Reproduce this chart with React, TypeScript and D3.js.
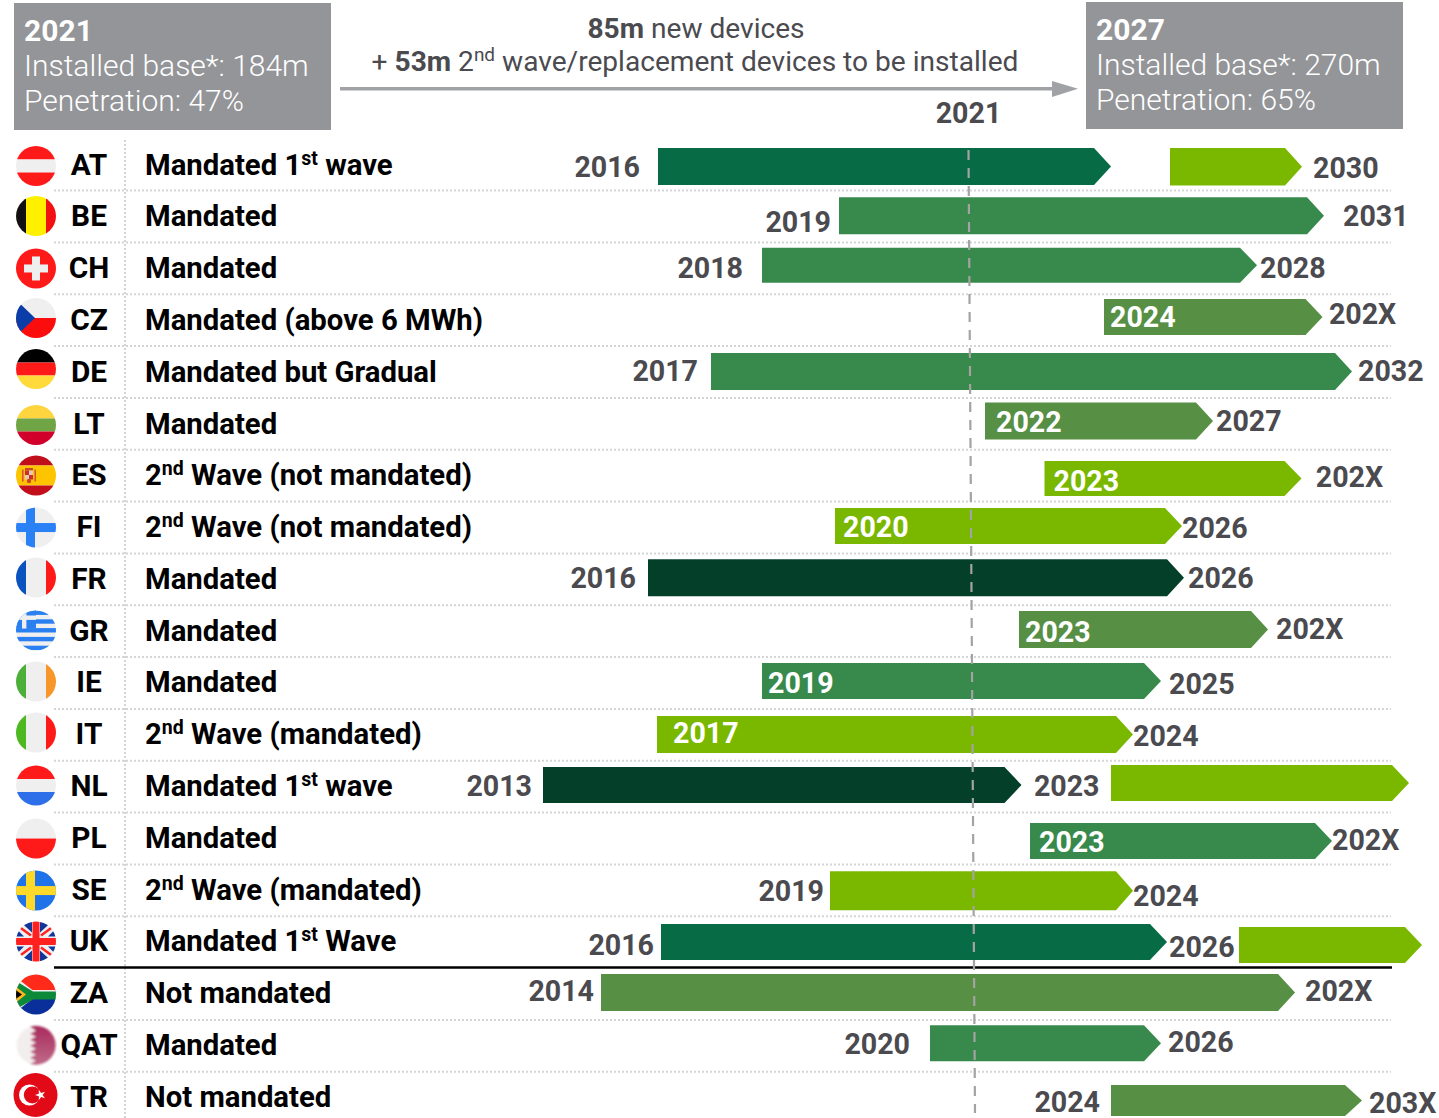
import React from "react";
import * as d3 from "d3";

// ---------- data ----------
const codes = ["AT","BE","CH","CZ","DE","LT","ES","FI","FR","GR","IE","IT","NL","PL","SE","UK","ZA","QAT","TR"];
const policies = [
  ["Mandated 1","st"," wave"],["Mandated"],["Mandated"],["Mandated (above 6 MWh)"],["Mandated but Gradual"],["Mandated"],
  ["2","nd"," Wave (not mandated)"],["2","nd"," Wave (not mandated)"],["Mandated"],["Mandated"],["Mandated"],
  ["2","nd"," Wave (mandated)"],["Mandated 1","st"," wave"],["Mandated"],["2","nd"," Wave (mandated)"],
  ["Mandated 1","st"," Wave"],["Not mandated"],["Mandated"],["Not mandated"],
];
const startYears = ["2016","2019","2018","2024","2017","2022","2023","2020","2016","2023","2019","2017","2013","2023","2019","2016","2014","2020","2024"];
const endYears = ["2030","2031","2028","202X","2032","2027","202X","2026","2026","202X","2025","2024","2023","202X","2024","2026","202X","2026","203X"];
const rollout = ["first","mandated","mandated","partial","mandated","partial","second","second","early","partial","mandated","second","early","mandated","second","first","partial","mandated","partial"];
// bar extents on the schematic timeline of the picture
const barStart = [2014.76,2018.38,2016.84,2023.68,2015.82,2021.3,2022.49,2018.3,2014.56,2021.98,2016.84,2014.74,2012.46,2022.2,2018.2,2014.82,2013.62,2020.2,2023.82];
const barEnd = [2023.82,2028.08,2026.74,2028.05,2028.64,2025.86,2027.63,2025.24,2025.28,2026.96,2024.82,2024.26,2022.03,2028.24,2024.26,2024.94,2027.5,2024.82,2028.84];
const secondRows = [0,12,15];
const secondStart = [2025.0,2023.82,2026.38];
const secondEnd = [2027.64,2029.78,2030.04];
const todayYear = 2021;

// ---------- layout & style ----------
const palette: Record<string,string> = { first:"#076C46", mandated:"#37894C", partial:"#578F45", second:"#7AB800", early:"#044029" };
const insideStart = [3,5,6,7,9,10,11,13];
const startGap = [18,8,19,6,13,11,9,8,12,6,6,16,11,9,6,7,7,20,11];
const startDy = [2,5,0,-3.5,-1,-2,5,-1,-1.5,0.5,0,-2,-1,3,0.5,2.5,-3,-2,4];
const endGap = [11,19,3,6.4,6,3,14.3,0,4,8,8,0,12.4,0,0,2,10,7,7];
const endDy = [3,-1,-0.7,-6.5,-1,-3,1,0,-1.5,-2.5,0.7,1,-1,1,5.5,4.5,-3,-4,5];
const barDy = [1.4,-1.1,-3.5,-3.5,-0.8,-3.2,2.5,-1.8,-2,-2,-2.3,-0.6,-2,2.2,0,-0.5,-1.8,-3,2.5];
const barH = [37,37,35,36,37,37,35,36,37,37,36,37,36,36,39,36,37,36,31];
const secondDy = [1.75,-4,2.5];
const secondH = [37.5,36,36];
const flagDy = [0.5,-1.3,-0.7,-3,-3.8,0.3,-1,-0.8,-2.6,-1.5,-2.3,-3.1,-2,-0.8,-0.6,-1.5,-0.3,-1.1,-3];
const TIP = 17;

const F = "Roboto, sans-serif";
const GREY = "#4A4A4F";
const x = d3.scaleLinear().domain([2010, 2035]).range([420, 1670]);
const rowY = d3.scaleLinear().domain([0, 18]).range([165, 1098]);
const poly = d3.line<[number,number]>().curve(d3.curveLinearClosed);

function chevron(s:number,e:number,cy:number,h:number){
  const l=x(s), r=x(e), t=cy-h/2, b=cy+h/2;
  return poly([[l,t],[r-TIP,t],[r,cy],[r-TIP,b],[l,b]]) as string;
}

function Flag({code}:{code:string}){
  const R="#FF1A1A", W="#EFEFEF", B="#0A52BE";
  const h3=(a:string,b:string,c:string,t=6.5)=>(<>
    <rect x={-24} y={-24} width={48} height={24-t} fill={a}/><rect x={-24} y={-t} width={48} height={2*t} fill={b}/><rect x={-24} y={t} width={48} height={24-t} fill={c}/></>);
  const v3=(a:string,b:string,c:string)=>(<>
    <rect x={-24} y={-24} width={14} height={48} fill={a}/><rect x={-10} y={-24} width={20} height={48} fill={b}/><rect x={10} y={-24} width={14} height={48} fill={c}/></>);
  switch(code){
    case "AT": return h3(R,W,R);
    case "BE": return v3("#111","#FFF000","#F21010");
    case "CH": return <><rect x={-24} y={-24} width={48} height={48} fill={R}/><rect x={-12} y={-4} width={24} height={8} fill={W}/><rect x={-4} y={-12} width={8} height={24} fill={W}/></>;
    case "CZ": return <><rect x={-24} y={-24} width={48} height={24} fill={W}/><rect x={-24} y={0} width={48} height={24} fill="#FC0D0D"/><path d="M-24,-22L-1,0L-24,22Z" fill="#0B3DA8"/></>;
    case "DE": return h3("#000","#FF1A1A","#FFDA3A");
    case "LT": return h3("#FFD53F","#6FA544","#D0002A");
    case "ES": return <>{h3("#C00E1A","#FFC400","#C00E1A",10)}
      <rect x={-14} y={-6} width={1.6} height={12} fill="#D8553A"/><rect x={-1.6} y={-6} width={1.6} height={12} fill="#D8553A"/>
      <rect x={-11} y={-7.5} width={8} height={2.5} fill="#C8482A"/>
      <rect x={-11} y={-5} width={4} height={4.5} fill="#C8302A"/><rect x={-7} y={-5} width={4} height={4.5} fill="#E8C8B8"/>
      <rect x={-11} y={-0.5} width={4} height={4.5} fill="#E8C8B8"/><rect x={-7} y={-0.5} width={4} height={4.5} fill="#C8302A"/>
      <circle cx={-7} cy={5.5} r={2.2} fill="#C8482A"/></>;
    case "FI": return <><rect x={-24} y={-24} width={48} height={48} fill={W}/><rect x={-24} y={-4.5} width={48} height={9} fill="#2A80F5"/><rect x={-10} y={-24} width={9} height={48} fill="#2A80F5"/></>;
    case "FR": return v3(B,W,R);
    case "GR": { const bl="#2A80F0"; return <><rect x={-24} y={-24} width={48} height={48} fill={W}/>
      {[-20,-11.2,-2.4,6.4,15.2].map(y=><rect key={y} x={-24} y={y} width={48} height={4.4} fill={bl}/>)}
      <rect x={-24} y={-24} width={24} height={22} fill={bl}/><rect x={-24} y={-15} width={24} height={4.4} fill={W}/><rect x={-14} y={-24} width={4.4} height={22} fill={W}/></>; }
    case "IE": return v3("#4CAF3A",W,"#F7962A");
    case "IT": return v3("#4DB81F",W,R);
    case "NL": return h3(R,W,"#2C6FE8");
    case "PL": return <><rect x={-24} y={-24} width={48} height={24} fill={W}/><rect x={-24} y={0} width={48} height={24} fill={R}/></>;
    case "SE": return <><rect x={-24} y={-24} width={48} height={48} fill="#1E73E8"/><rect x={-24} y={-4.5} width={48} height={9} fill="#FFD92A"/><rect x={-10} y={-24} width={9} height={48} fill="#FFD92A"/></>;
    case "UK": return <><rect x={-24} y={-24} width={48} height={48} fill={W}/>
      <path d="M-4,-20L-16,-20L-4,-9ZM4,-20L16,-20L4,-9ZM-4,20L-16,20L-4,9ZM4,20L16,20L4,9ZM-20,-5L-12,-5L-20,-13ZM20,-5L12,-5L20,-13ZM-20,5L-12,5L-20,13ZM20,5L12,5L20,13Z" fill="#12359A"/>
      <path d="M-20,-17L-5,-6M20,-17L5,-6M-20,17L-5,6M20,17L5,6" stroke="#F22" strokeWidth={2.5}/>
      <rect x={-24} y={-3.5} width={48} height={7} fill="#FF2020"/><rect x={-3.5} y={-24} width={7} height={48} fill="#FF2020"/></>;
    case "ZA": return <><rect x={-24} y={-24} width={48} height={24} fill="#FF2A1A"/><rect x={-24} y={0} width={48} height={24} fill="#0B2F9A"/>
      <path d="M-24,-19L-4,-3.5L24,-3.5L24,3.5L-4,3.5L-24,19Z" fill="#EFEFEF" stroke="#EFEFEF" strokeWidth={2}/>
      <path d="M-24,-16L-3,-3L24,-3L24,5L-3,5L-24,17Z" fill="#0C8A3A"/>
      <path d="M-24,-11L-10,0L-24,11Z" fill="#FFB81C"/><path d="M-24,-7L-14,0L-24,7Z" fill="#000"/></>;
    default: return null;
  }
}

function Policy({parts,y}:{parts:string[],y:number}){
  return <text x={145} y={y} fontFamily={F} fontWeight={700} fontSize={29.3} fill="#000">
    {parts.map((p,i)=> i===1
      ? <tspan key={i} fontSize={19.5} dy={-10}>{p}</tspan>
      : <tspan key={i} dy={i===2?10:0}>{p}</tspan>)}
  </text>;
}

export default function App(){
  React.useEffect(()=>{document.body.style.margin="0";},[]);
  return (
    <svg width={1439} height={1118} style={{position:"absolute",left:0,top:0,display:"block",background:"#fff"}}>
      <defs>
        <clipPath id="fc"><circle r={20}/></clipPath>
        <filter id="blur"><feGaussianBlur stdDeviation={1.1}/></filter>
        <linearGradient id="qat" x1="0" y1="0" x2="0" y2="1"><stop offset="0" stopColor="#A82A5C"/><stop offset="1" stopColor="#C06A88"/></linearGradient>
      </defs>

      {/* header */}
      <rect x={14} y={3} width={317} height={127} fill="#939598"/>
      <rect x={1086} y={2} width={317} height={127} fill="#939598"/>
      {[{x:24,dy:0,l:"2021",b:"184m",p:"47%"},{x:1096,dy:-1,l:"2027",b:"270m",p:"65%"}].map(h=>(
        <g key={h.l} fontFamily={F} fontSize={30} fill="#fff">
          <text x={h.x} y={41+h.dy} fontWeight={700}>{h.l}</text>
          <text x={h.x} y={76+h.dy} fontWeight={300}>Installed base*: {h.b}</text>
          <text x={h.x} y={111+h.dy} fontWeight={300}>Penetration: {h.p}</text>
        </g>
      ))}
      <text x={696} y={37.5} textAnchor="middle" fontFamily={F} fontSize={28.1} fill={GREY}><tspan fontWeight={700}>85m</tspan> new devices</text>
      <text x={695} y={71} textAnchor="middle" fontFamily={F} fontSize={28.1} fill={GREY}>
        + <tspan fontWeight={700}>53m</tspan> 2<tspan fontSize={19} dy={-10}>nd</tspan><tspan dy={10}> wave/replacement devices to be installed</tspan>
      </text>
      <rect x={340} y={87} width={714} height={3.5} fill="#A0A2A5"/>
      <path d={poly([[1052,81],[1078,88.7],[1052,97]]) as string} fill="#A0A2A5"/>
      <text x={968.5} y={123} textAnchor="middle" fontFamily={F} fontWeight={700} fontSize={28.6} fill={GREY}>{todayYear}</text>

      {/* grid */}
      <line x1={125} x2={125} y1={140} y2={1118} stroke="#D4D5D6" strokeWidth={2} strokeDasharray="2 2"/>
      {codes.slice(0,18).map((c,i)=>{
        const y=rowY(i)+25.6;
        return i===15
          ? <line key={c} x1={54} x2={1392} y1={y-0.6} y2={y-0.6} stroke="#000" strokeWidth={2.5}/>
          : <line key={c} x1={54} x2={1391} y1={y} y2={y} stroke="#D4D5D6" strokeWidth={2} strokeDasharray="2 2"/>;
      })}

      {/* bars */}
      {codes.map((c,i)=>(
        <path key={c} d={chevron(barStart[i],barEnd[i],rowY(i)+barDy[i],barH[i])} fill={palette[rollout[i]]}/>
      ))}
      {secondRows.map((r,i)=>(
        <path key={r} d={chevron(secondStart[i],secondEnd[i],rowY(r)+secondDy[i],secondH[i])} fill={palette.second}/>
      ))}

      {/* 2021 marker */}
      <line x1={x(todayYear)-1.5} x2={x(todayYear)+5} y1={150} y2={1113} stroke="#A3A3A3" strokeWidth={2.2} strokeDasharray="10 8"/>

      {/* rows */}
      {codes.map((c,i)=>{
        const y=rowY(i), inside=insideStart.includes(i);
        const sx=inside? x(barStart[i])+startGap[i] : x(barStart[i])-startGap[i];
        return <g key={c}>
          <text x={89} y={y+9.6-i*0.05} textAnchor="middle" fontFamily={F} fontWeight={700} fontSize={29.8} fill="#000">{c}</text>
          <Policy parts={policies[i]} y={y+9.6-i*0.05}/>
          <text x={sx} y={y+startDy[i]+9.8} textAnchor={inside?"start":"end"} fontFamily={F} fontWeight={700} fontSize={28.6} fill={inside?"#fff":GREY}>{startYears[i]}</text>
          <text x={x(barEnd[i])+endGap[i]+(c==="AT"?191:0)} y={y+endDy[i]+9.8} fontFamily={F} fontWeight={700} fontSize={28.6} fill={GREY}>{endYears[i]}</text>
          {c!=="QAT"&&c!=="TR"&&<g transform={`translate(36,${y+0.5+flagDy[i]})`} clipPath="url(#fc)"><Flag code={c}/></g>}
        </g>;
      })}
      {/* Qatar and Turkey flags */}
      <g transform={`translate(36,${rowY(17)-1})`} filter="url(#blur)">
        <circle r={19.5} fill="#F3EEEE"/>
        <path d="M-6,-18.5A19.5,19.5,0,1,1,-6,18.5L0,15.5L-6,12.5L0,9.5L-6,6.5L0,3.5L-6,0.5L0,-2.5L-6,-5.5L0,-8.5L-6,-11.5L0,-14.5Z" fill="url(#qat)"/>
      </g>
      <g transform={`translate(35.5,${rowY(18)-3})`}>
        <circle r={22} fill="#E30A17"/>
        <circle cx={-6} r={10.5} fill="#fff"/>
        <circle cx={-3.2} r={8.5} fill="#E30A17"/>
        <path d={d3.symbol().type(d3.symbolStar).size(34)() as string} transform="translate(5,0) rotate(-90)" fill="#fff"/>
      </g>
    </svg>
  );
}
